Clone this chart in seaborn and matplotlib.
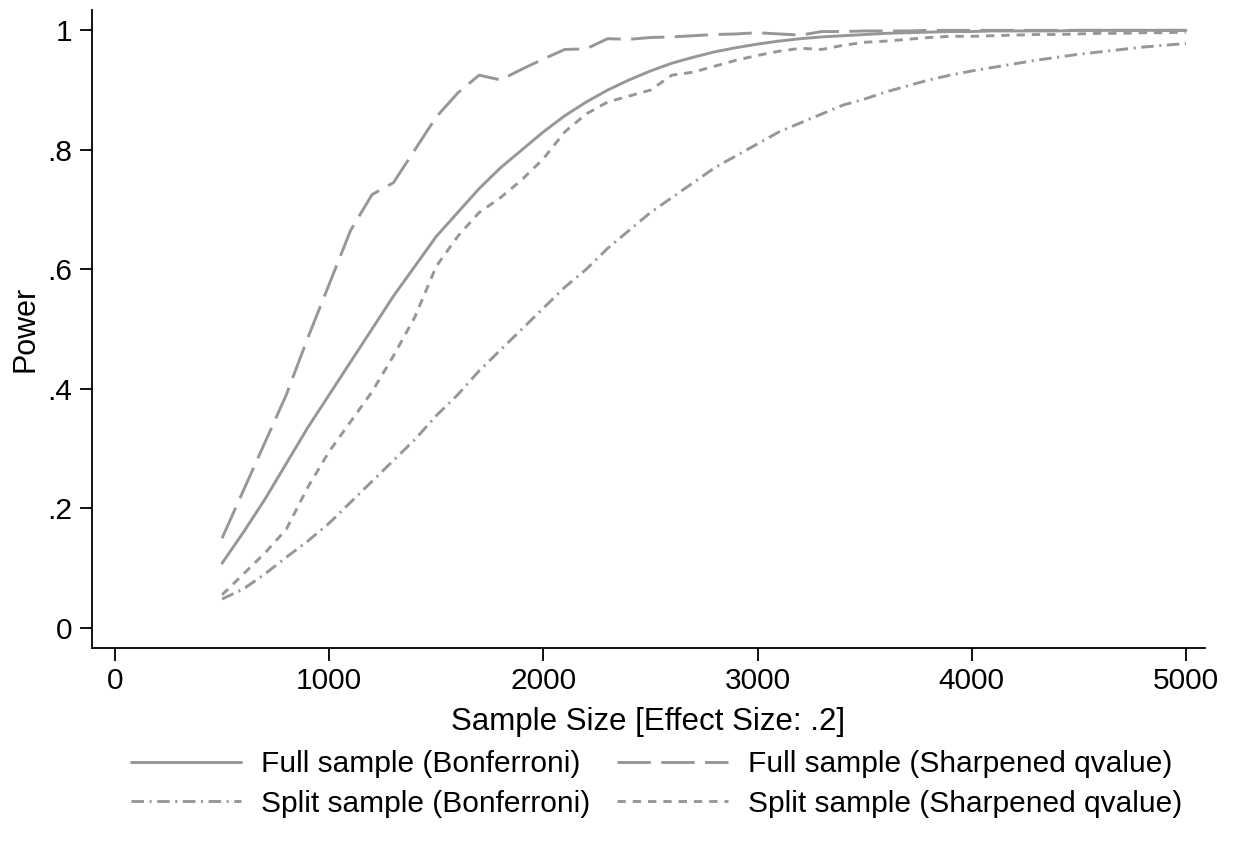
import numpy as np
import pandas as pd
import matplotlib
matplotlib.use("Agg")
import matplotlib.pyplot as plt
import seaborn as sns

sample_size = list(range(500, 5001, 100))

full_bonf = [.108, .16, .215, .275, .335, .39, .445, .50, .555, .605,
             .655, .695, .735, .77, .80, .83, .857, .88, .90, .917,
             .932, .945, .955, .964, .971, .977, .982, .986, .989, .991,
             .993, .995, .996, .997, .998, .998, .999, .999, .999, .999,
             1.0, 1.0, 1.0, 1.0, 1.0, 1.0]

full_sharp = [.15, .23, .31, .39, .485, .575, .665, .725, .745, .80,
              .855, .895, .925, .917, .935, .952, .968, .969, .986, .985,
              .988, .989, .991, .993, .994, .996, .994, .992, .998, .998,
              .999, .999, .999, 1.0, 1.0, 1.0, 1.0, 1.0, 1.0, 1.0,
              1.0, 1.0, 1.0, 1.0, 1.0, 1.0]

split_bonf = [.048, .065, .09, .118, .145, .175, .21, .245, .28, .315,
              .355, .39, .43, .465, .50, .535, .57, .60, .635, .665,
              .695, .72, .745, .77, .79, .81, .83, .845, .86, .875,
              .885, .897, .907, .917, .925, .932, .938, .944, .95, .955,
              .96, .964, .968, .972, .975, .978]

split_sharp = [.055, .09, .125, .165, .235, .295, .345, .395, .455, .52,
               .605, .655, .695, .72, .75, .785, .83, .86, .88, .89,
               .90, .925, .93, .94, .95, .958, .965, .97, .968, .975,
               .98, .982, .985, .988, .99, .99, .991, .992, .993, .993,
               .994, .995, .995, .996, .996, .997]

labels = ["Full sample (Bonferroni)", "Full sample (Sharpened qvalue)",
          "Split sample (Bonferroni)", "Split sample (Sharpened qvalue)"]
x_ticks = [0, 1000, 2000, 3000, 4000, 5000]
y_ticks = [0, .2, .4, .6, .8, 1]
y_ticklabels = ["0", ".2", ".4", ".6", ".8", "1"]

sns.set_theme(style="ticks")
plt.rcParams['font.family'] = ['Liberation Sans', 'DejaVu Sans']
plt.rcParams['lines.scale_dashes'] = False
plt.rcParams['text.color'] = 'black'
plt.rcParams['axes.labelcolor'] = 'black'

fig = plt.figure(figsize=(12.34, 8.5), dpi=100)
ax = fig.add_axes([0.0746, 0.2376, 0.9019, 0.7506])

gray = "#979797"
lw = 2.1
styles = {
    labels[0]: "-",
    labels[1]: (0, (24, 7.5)),
    labels[2]: (0, (9, 4, 1.5, 4)),
    labels[3]: (0, (6, 5)),
}
series = {labels[0]: full_bonf, labels[1]: full_sharp,
          labels[2]: split_bonf, labels[3]: split_sharp}

handles = {}
for lab in labels:
    df = pd.DataFrame({"n": sample_size, "p": series[lab]})
    sns.lineplot(data=df, x="n", y="p", ax=ax, color=gray, linewidth=lw,
                 linestyle=styles[lab], label=lab, legend=False)
    handles[lab] = ax.lines[-1]

ax.set_xlim(-107, 5089)
ax.set_ylim(-0.034, 1.034)
ax.set_xticks(x_ticks)
ax.set_xticklabels([str(t) for t in x_ticks])
ax.set_yticks(y_ticks)
ax.set_yticklabels(y_ticklabels)
ax.tick_params(axis="both", labelsize=21.5, length=9, width=1.3, color="black",
               labelcolor="black", pad=5)
for s in ["top", "right"]:
    ax.spines[s].set_visible(False)
for s in ["left", "bottom"]:
    ax.spines[s].set_linewidth(1.3)
    ax.spines[s].set_color("black")

ax.set_xlabel("Sample Size [Effect Size: .2]", fontsize=22.5, labelpad=8)
ax.set_ylabel("Power", fontsize=22, labelpad=5)

# legend: matplotlib fills column-wise, so order to get rows as in reference
order = [labels[0], labels[2], labels[1], labels[3]]
leg = fig.legend(handles=[handles[l] for l in order], labels=order,
                 loc="upper center", bbox_to_anchor=(0.532, 0.149), ncol=2,
                 frameon=False, fontsize=21.5, handlelength=3.7,
                 handletextpad=0.67, columnspacing=0.9, labelspacing=0.38)
for t in leg.get_texts():
    t.set_color("black")

fig.savefig("out.png", dpi=100)
